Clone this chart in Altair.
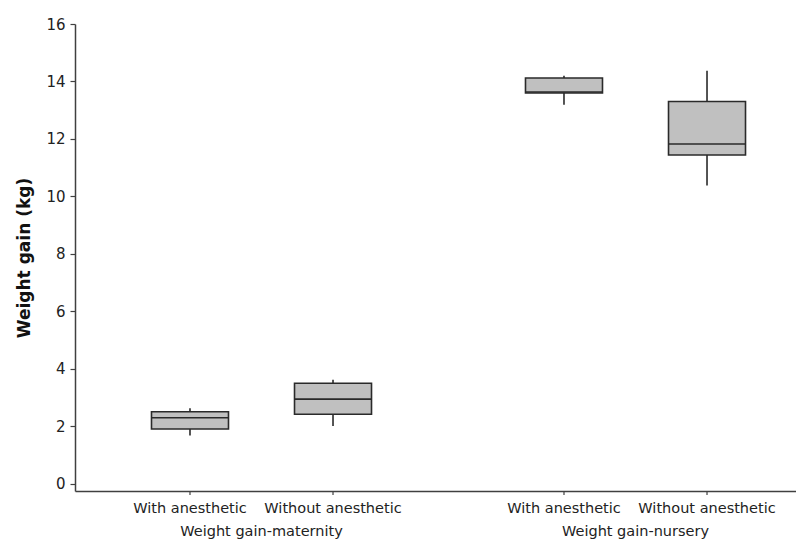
import altair as alt
import pandas as pd

groups = ["Weight gain-maternity", "Weight gain-maternity", "Weight gain-nursery", "Weight gain-nursery"]
treatments = ["With anesthetic", "Without anesthetic", "With anesthetic", "Without anesthetic"]
mins = [1.67, 2.00, 13.19, 10.38]
q1s = [1.90, 2.41, 13.60, 11.44]
medians = [2.29, 2.94, 13.63, 11.82]
q3s = [2.50, 3.49, 14.12, 13.30]
maxs = [2.62, 3.61, 14.20, 14.37]
y_ticks = [0, 2, 4, 6, 8, 10, 12, 14, 16]

df = pd.DataFrame({
    "group": groups, "treatment": treatments,
    "min": mins, "q1": q1s, "median": medians, "q3": q3s, "max": maxs,
})

W, H = 721, 467
group_order = ["Weight gain-maternity", "Weight gain-nursery"]
treat_order = ["With anesthetic", "Without anesthetic"]

x_enc = alt.X("group:N", sort=group_order, title=None,
              scale=alt.Scale(paddingInner=0.2, paddingOuter=0.0639, align=0.772),
              axis=alt.Axis(ticks=False, tickSize=0, labelPadding=33, labelAngle=0,
                            domainColor="#404040", domainWidth=1.5,
                            labelFontSize=14.5, labelColor="#222"))
xo_enc = alt.XOffset("treatment:N", sort=treat_order,
                     scale=alt.Scale(paddingInner=0, paddingOuter=0.046))
y_scale = alt.Scale(domain=[-0.26, 16], nice=False, zero=False)

base = alt.Chart(df)

whisk = base.mark_rule(color="#2a2a2a", strokeWidth=1.6).encode(
    x=x_enc, xOffset=xo_enc,
    y=alt.Y("min:Q", scale=y_scale, title="Weight gain (kg)",
            axis=alt.Axis(values=y_ticks, grid=False, tickSize=5, labelPadding=5,
                          domainColor="#404040", domainWidth=1.5,
                          tickColor="#404040", tickWidth=1.2,
                          labelFontSize=15, labelColor="#222",
                          titleFontSize=17, titleFontWeight="bold", titleColor="#111",
                          titlePadding=12)),
    y2="max:Q",
)

box = base.mark_bar(size=77, color="#c0c0c0", stroke="#2a2a2a", strokeWidth=1.6).encode(
    x=x_enc, xOffset=xo_enc,
    y=alt.Y("q1:Q", scale=y_scale), y2="q3:Q",
)

med = base.mark_tick(size=77, thickness=1.6, color="#2a2a2a", opacity=1, orient="horizontal").encode(
    x=x_enc, xOffset=xo_enc,
    y=alt.Y("median:Q", scale=y_scale),
)

ticks = base.mark_rule(color="#404040", strokeWidth=1.2).encode(
    x=x_enc, xOffset=xo_enc,
    y=alt.value(H), y2=alt.value(H + 4),
)

labels = base.mark_text(baseline="top", fontSize=14.5, color="#222").encode(
    x=x_enc, xOffset=xo_enc,
    y=alt.value(H + 11),
    text="treatment:N",
)

chart = alt.layer(whisk, box, med, ticks, labels).properties(
    width=W, height=H,
    padding={"left": 67, "top": 16, "right": 0, "bottom": 60},
    autosize=alt.AutoSizeParams(type="none"),
).configure(
    font="DejaVu Sans",
).configure_view(stroke=None)

chart.save("out.html", embed_options={"renderer": "svg", "actions": False})
